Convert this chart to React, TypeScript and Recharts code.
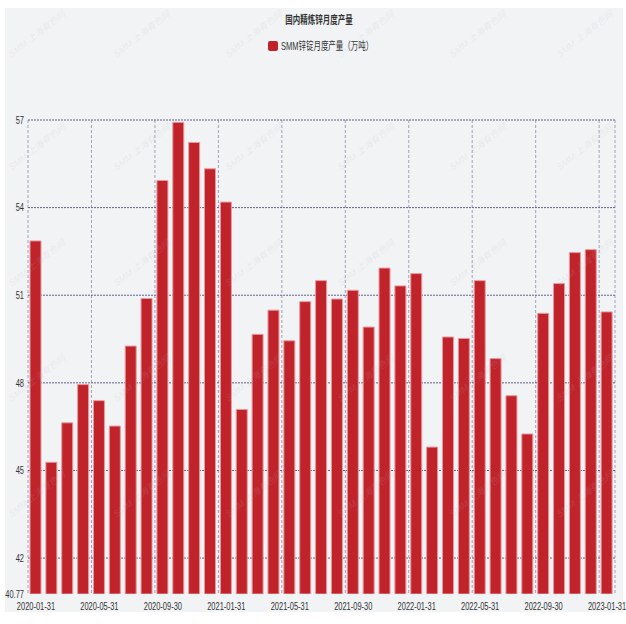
import { BarChart, Bar, XAxis, YAxis, CartesianGrid, Legend } from 'recharts'

const months = [
  '2020-01-31', '2020-02-29', '2020-03-31', '2020-04-30', '2020-05-31', '2020-06-30',
  '2020-07-31', '2020-08-31', '2020-09-30', '2020-10-31', '2020-11-30', '2020-12-31',
  '2021-01-31', '2021-02-28', '2021-03-31', '2021-04-30', '2021-05-31', '2021-06-30',
  '2021-07-31', '2021-08-31', '2021-09-30', '2021-10-31', '2021-11-30', '2021-12-31',
  '2022-01-31', '2022-02-28', '2022-03-31', '2022-04-30', '2022-05-31', '2022-06-30',
  '2022-07-31', '2022-08-31', '2022-09-30', '2022-10-31', '2022-11-30', '2022-12-31',
  '2023-01-31',
]

const output = [
  52.86, 45.28, 46.63, 47.94, 47.39, 46.52, 49.26, 50.89, 54.93, 56.92, 56.23, 55.33,
  54.19, 47.09, 49.66, 50.49, 49.44, 50.78, 51.5, 50.87, 51.17, 49.91, 51.93, 51.32,
  51.74, 45.8, 49.57, 49.52, 51.5, 48.83, 47.56, 46.25, 50.38, 51.4, 52.46, 52.56,
  50.43,
]

const yTicks = [40.77, 42, 45, 48, 51, 54, 57]
const gridValues = [42, 45, 48, 51, 54, 57]

const title = '国内精炼锌月度产量'
const seriesName = 'SMM锌锭月度产量（万吨）'
const watermark = 'SMM 上海有色网'

const data = months.map((m, i) => ({ date: m, value: output[i] }))

const W = 626
const H = 604
const RED = '#c1232b'
const FONT = "'Liberation Sans', Arial, 'Noto Sans CJK SC', sans-serif"
const SQUASH = 0.68

const XTick = ({ x, y, payload }: any) => (
  <text
    transform={`translate(${x},${y}) scale(${SQUASH},1)`}
    textAnchor="middle"
    dy="0.71em"
    fontSize={11}
    fill="#333"
    fontFamily={FONT}
  >
    {payload.value}
  </text>
)

const YTick = ({ x, y, payload }: any) => (
  <text
    transform={`translate(${x},${y}) scale(${SQUASH},1)`}
    textAnchor="end"
    dy="0.35em"
    fontSize={11}
    fill="#333"
    fontFamily={FONT}
  >
    {payload.value}
  </text>
)

const LegendContent = () => (
  <div style={{ position: 'relative', height: 16, fontFamily: FONT }}>
    <div
      style={{
        position: 'absolute', left: 268, top: 3, width: 10, height: 10,
        background: RED, borderRadius: 2,
      }}
    />
    <div
      style={{
        position: 'absolute', left: 281, top: 0, fontSize: 11, lineHeight: '16px',
        color: '#333', whiteSpace: 'nowrap', transform: `scaleX(${SQUASH})`,
        transformOrigin: 'left center',
      }}
    >
      {seriesName}
    </div>
  </div>
)

export default function App() {
  // faint watermark grid
  const wmCols = [37, 142, 254, 366, 478, 585]
  const wmRows = [26, 139, 255, 370, 486]
  return (
    <div style={{ position: 'relative', width: W, height: 624 }}>
      <style>{'body{margin:0}'}</style>
      <div style={{ position: 'absolute', left: 5, top: 8, width: 618, height: H, background: '#f2f3f5' }} />
      <div
        style={{
          position: 'absolute', left: 319, top: 12, fontSize: 11, fontWeight: 'bold',
          color: '#333', fontFamily: FONT, whiteSpace: 'nowrap', lineHeight: '16px',
          transform: `translateX(-50%) scaleX(${SQUASH})`,
        }}
      >
        {title}
      </div>
      <div style={{ position: 'absolute', left: 0, top: 8 }}>
        <BarChart
          width={W}
          height={H}
          data={data}
          margin={{ top: 96, right: 11, left: 5, bottom: 0 }}
          barSize={11}
        >
          <CartesianGrid
            horizontal={false}
            stroke="#9ea2b8"
            strokeDasharray="3 2"
            verticalCoordinatesGenerator={({ offset }: any) =>
              [0, 4, 8, 12, 16, 20, 24, 28, 32, 36, months.length].map(
                (i) => offset.left + (i * offset.width) / months.length,
              )
            }
          />
          <CartesianGrid
            vertical={false}
            stroke="#5d6288"
            strokeDasharray="2 1"
            horizontalValues={gridValues}
          />
          <XAxis
            dataKey="date"
            interval={3}
            tickLine={false}
            axisLine={false}
            tickSize={0}
            tickMargin={8}
            height={18}
            tick={<XTick />}
          />
          <YAxis
            type="number"
            domain={[40.77, 57]}
            ticks={yTicks}
            allowDataOverflow
            tickLine={false}
            axisLine={false}
            tickSize={0}
            tickMargin={4}
            width={23}
            tick={<YTick />}
          />
          <Legend
            verticalAlign="top"
            content={<LegendContent />}
            wrapperStyle={{ top: 30, left: 0, width: W, height: 16 }}
          />
          <Bar
            dataKey="value"
            name={seriesName}
            fill={RED}
            stroke="#e79aa0"
            strokeWidth={1}
            isAnimationActive={false}
          />
        </BarChart>
      </div>
      <svg
        width={W}
        height={H}
        style={{ position: 'absolute', left: 0, top: 8, pointerEvents: 'none' }}
      >
        {wmRows.map((ry) =>
          wmCols.map((cx) => (
            <text
              key={`${cx}-${ry}`}
              x={cx}
              y={ry}
              transform={`rotate(-38 ${cx} ${ry})`}
              textAnchor="middle"
              dominantBaseline="central"
              fontSize={9}
              fontStyle="italic"
              fill="#b8bac0"
              fillOpacity={0.18}
              fontFamily={FONT}
            >
              {watermark}
            </text>
          )),
        )}
      </svg>
    </div>
  )
}
